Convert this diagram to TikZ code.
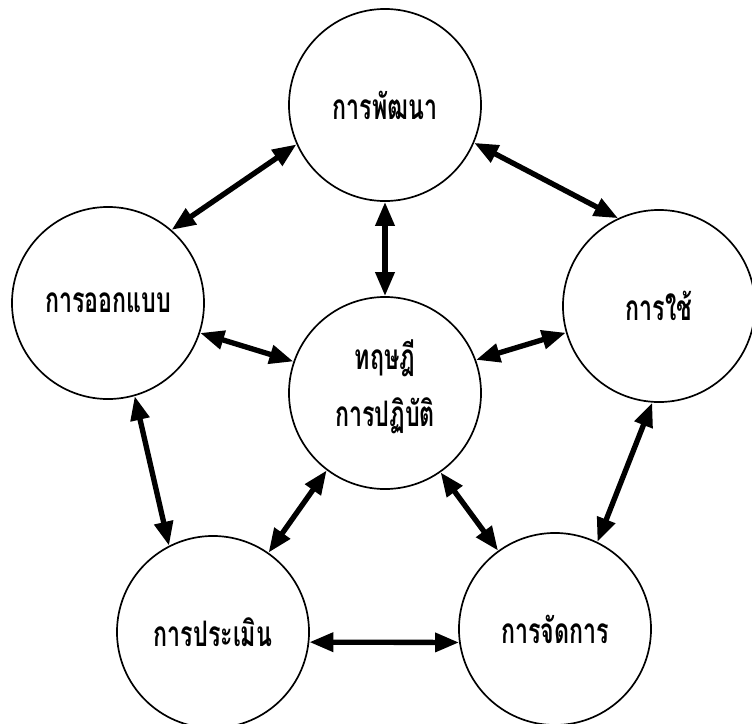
\documentclass[tikz,border=0pt]{standalone}
\usepackage{fontspec}
\newfontfamily\thaifont[Script=Thai,FakeStretch=0.66]{Loma}
\usetikzlibrary{arrows.meta}

\begin{document}
\begin{tikzpicture}[x=0.025cm, y=-0.025cm,
  font={\thaifont\bfseries\fontsize{25}{40}\selectfont},
  stage/.style={draw, circle, line width=1.2pt, minimum size=4.8cm, align=center},
  link/.style={{Triangle[length=6mm,width=4.6mm]}-{Triangle[length=6mm,width=4.6mm]}, line width=3.8pt}]

\useasboundingbox (0,0) rectangle (752,724);

% Circles
\node [stage] (develop) at (385,105) {การพัฒนา};
\node [stage] (design) at (108,303) {การออกแบบ};
\node [stage] (usage) at (659,306) {การใช้};
\node [stage] (theory) at (385,393) {ทฤษฎี\\การปฏิบัติ\\[-26pt]};
\node [stage] (evaluate) at (213,632) {การประเมิน};
\node [stage] (manage) at (555,629) {การจัดการ};

% Arrows
\draw [link] (develop.204) -- (design.49);
\draw [link] (develop.337) -- (usage.115);
\draw [link] (develop.270) -- (theory.90);
\draw [link] (design.342) -- (theory.161);
\draw [link] (usage.196) -- (theory.20);
\draw [link] (design.286) -- (evaluate.117);
\draw [link] (theory.233) -- (evaluate.55);
\draw [link] (theory.305) -- (manage.126);
\draw [link] (usage.266) -- (manage.64);
\draw [link] (evaluate.354) -- (manage.188);

\end{tikzpicture}
\end{document}
